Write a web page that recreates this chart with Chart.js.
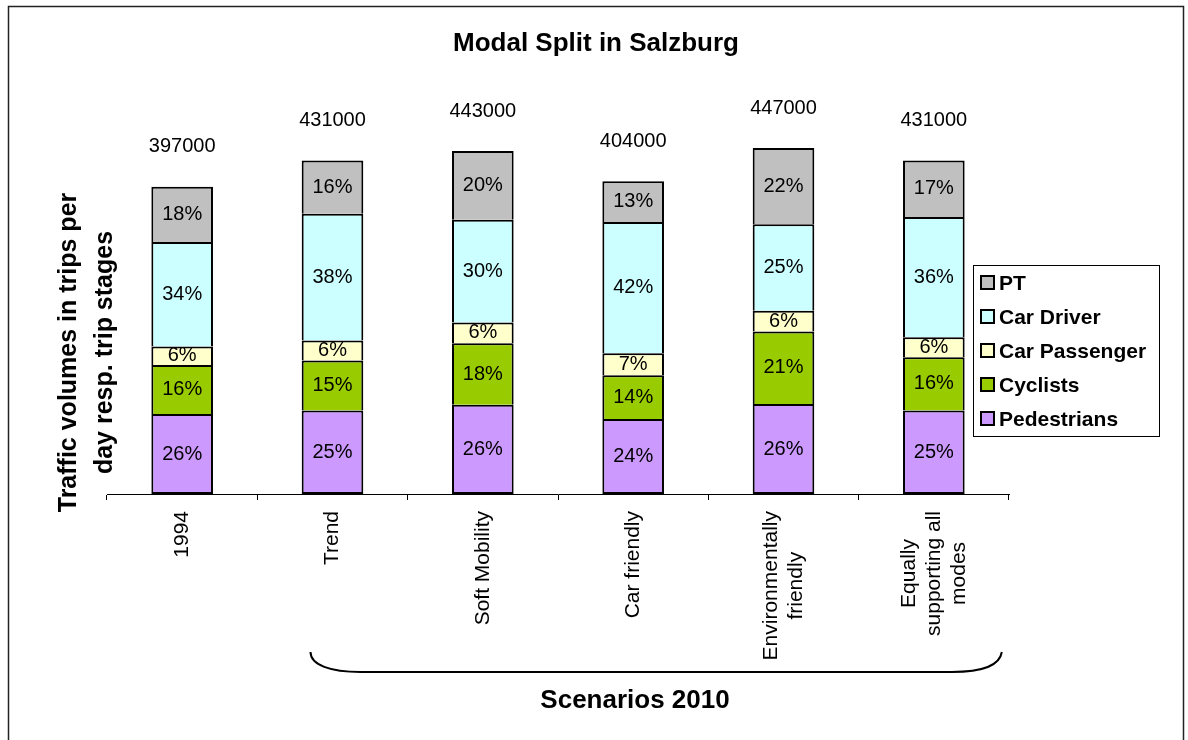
<!DOCTYPE html>
<html>
<head>
<meta charset="utf-8">
<script src="https://cdn.jsdelivr.net/npm/chart.js@4/dist/chart.umd.min.js"></script>
<style>
  html, body { margin: 0; padding: 0; background: #fff; }
  canvas { display: block; }
</style>
</head>
<body>
<canvas id="modalchart" width="1188" height="740"></canvas>
<script>
// categories (multi-line labels as arrays)
const categories = ['1994', 'Trend', 'Soft Mobility', 'Car friendly',
    ['Environmentally', 'friendly'], ['Equally', 'supporting all', 'modes']];

// total trips per day
const totals = [397000, 431000, 443000, 404000, 447000, 431000];

// modal share in percent
const pedestrians = [26, 25, 26, 24, 26, 25];
const cyclists = [16, 15, 18, 14, 21, 16];
const carPassenger = [6, 6, 6, 7, 6, 6];
const carDriver = [34, 38, 30, 42, 25, 36];
const pt = [18, 16, 20, 13, 22, 17];

const chartTitle = 'Modal Split in Salzburg';
const yTitle = ['Traffic volumes in trips per', 'day resp. trip stages'];
const groupTitle = 'Scenarios 2010';

const FONT = "'Liberation Sans', Arial, Helvetica, sans-serif";
Chart.defaults.font.family = FONT;

function volumes(shares) {
    return shares.map((s, i) => totals[i] * s / 100);
}

function series(label, shares, color) {
    return {
        label: label,
        shares: shares,
        data: volumes(shares),
        backgroundColor: color,
        borderColor: '#000',
        borderWidth: 2,
        barPercentage: 0.41,
        categoryPercentage: 1.0,
        borderSkipped: label === 'Pedestrians' ? false : 'start'
    };
}

const decor = {
    id: 'decor',
    beforeDraw(chart) {
        const ctx = chart.ctx;
        ctx.save();
        ctx.fillStyle = '#fff';
        ctx.fillRect(0, 0, chart.width, chart.height);
        ctx.strokeStyle = '#222';
        ctx.lineWidth = 1.5;
        ctx.strokeRect(8.5, 6.5, chart.width - 13, chart.height + 20);
        ctx.restore();
    },
    afterDatasetsDraw(chart) {
        const ctx = chart.ctx;
        ctx.save();
        ctx.fillStyle = '#000';
        ctx.textAlign = 'center';
        ctx.textBaseline = 'middle';
        ctx.font = '20px ' + FONT;
        chart.data.datasets.forEach((ds, di) => {
            chart.getDatasetMeta(di).data.forEach((bar, i) => {
                ctx.fillText(ds.shares[i] + '%', bar.x, (bar.y + bar.base) / 2);
            });
        });
        // totals above bars
        const topMeta = chart.getDatasetMeta(chart.data.datasets.length - 1);
        topMeta.data.forEach((bar, i) => {
            ctx.fillText(String(totals[i]), bar.x, bar.y - 40);
        });
        ctx.restore();
    },
    afterDraw(chart) {
        const ctx = chart.ctx;
        const area = chart.chartArea;
        const xs = chart.scales.x;
        ctx.save();
        ctx.fillStyle = '#000';

        // chart title
        ctx.font = 'bold 26px ' + FONT;
        ctx.textAlign = 'center';
        ctx.textBaseline = 'middle';
        ctx.fillText(chartTitle, 596, 44);

        // y axis title, rotated
        ctx.font = 'bold 25px ' + FONT;
        ctx.translate(76, (area.top + area.bottom) / 2 + 52);
        ctx.rotate(-Math.PI / 2);
        ctx.textAlign = 'center';
        ctx.textBaseline = 'alphabetic';
        yTitle.forEach((line, k) => ctx.fillText(line, 0, k * 36));
        ctx.setTransform(1, 0, 0, 1, 0, 0);

        // category labels, rotated, lines centred on each other
        ctx.font = '21px ' + FONT;
        ctx.textBaseline = 'middle';
        ctx.textAlign = 'center';
        categories.forEach((lab, i) => {
            const lines = Array.isArray(lab) ? lab : [lab];
            const maxW = Math.max(...lines.map(l => ctx.measureText(l).width));
            const x = xs.getPixelForValue(i);
            ctx.save();
            ctx.translate(x, area.bottom + 17 + maxW / 2);
            ctx.rotate(-Math.PI / 2);
            const lh = 25;
            lines.forEach((l, k) => {
                ctx.fillText(l, 0, (k - (lines.length - 1) / 2) * lh);
            });
            ctx.restore();
        });

        // bracket under the scenarios
        const bx0 = xs.getPixelForValue(1) - 22;
        const bx1 = xs.getPixelForValue(5) + 68;
        const by0 = 652, by1 = 672;
        ctx.strokeStyle = '#000';
        ctx.lineWidth = 2;
        ctx.beginPath();
        ctx.moveTo(bx0, by0);
        ctx.bezierCurveTo(bx0, by0 + 13, bx0 + 20, by1, bx0 + 50, by1);
        ctx.lineTo(bx1 - 50, by1);
        ctx.bezierCurveTo(bx1 - 18, by1, bx1 - 2, by1 - 7, bx1, by0);
        ctx.stroke();

        ctx.font = 'bold 26px ' + FONT;
        ctx.textAlign = 'center';
        ctx.textBaseline = 'middle';
        ctx.fillText(groupTitle, 635, 701);

        // legend box
        const lx = 973, ly = 265, lw = 186, lhgt = 171;
        ctx.fillStyle = '#fff';
        ctx.fillRect(lx, ly, lw, lhgt);
        ctx.strokeStyle = '#000';
        ctx.lineWidth = 1;
        ctx.strokeRect(lx + 0.5, ly + 0.5, lw, lhgt);
        ctx.font = 'bold 21px ' + FONT;
        ctx.textAlign = 'left';
        const items = chart.data.datasets.slice().reverse();
        items.forEach((ds, k) => {
            const cy = 283 + k * 34;
            ctx.fillStyle = ds.backgroundColor;
            ctx.fillRect(981, cy - 7, 13, 13);
            ctx.lineWidth = 2;
            ctx.strokeRect(981, cy - 7, 13, 13);
            ctx.fillStyle = '#000';
            ctx.fillText(ds.label, 999, cy + 1);
        });
        ctx.restore();
    }
};

new Chart(document.getElementById('modalchart'), {
    type: 'bar',
    data: {
        labels: categories,
        datasets: [
            series('Pedestrians', pedestrians, '#CC99FF'),
            series('Cyclists', cyclists, '#99CC00'),
            series('Car Passenger', carPassenger, '#FFFFCC'),
            series('Car Driver', carDriver, '#CCFFFF'),
            series('PT', pt, '#C0C0C0')
        ]
    },
    options: {
        responsive: false,
        animation: false,
        layout: { padding: { left: 107, right: 179, top: 107, bottom: 240 } },
        plugins: {
            legend: { display: false },
            tooltip: { enabled: false },
            title: { display: false }
        },
        scales: {
            x: {
                stacked: true,
                grid: { offset: true, drawOnChartArea: false, drawTicks: true, tickLength: 6, color: '#000' },
                border: { display: true, color: '#000', width: 1 },
                ticks: { display: false }
            },
            y: {
                stacked: true,
                display: false,
                min: 0,
                max: 500000
            }
        }
    },
    plugins: [decor]
});
</script>
</body>
</html>
